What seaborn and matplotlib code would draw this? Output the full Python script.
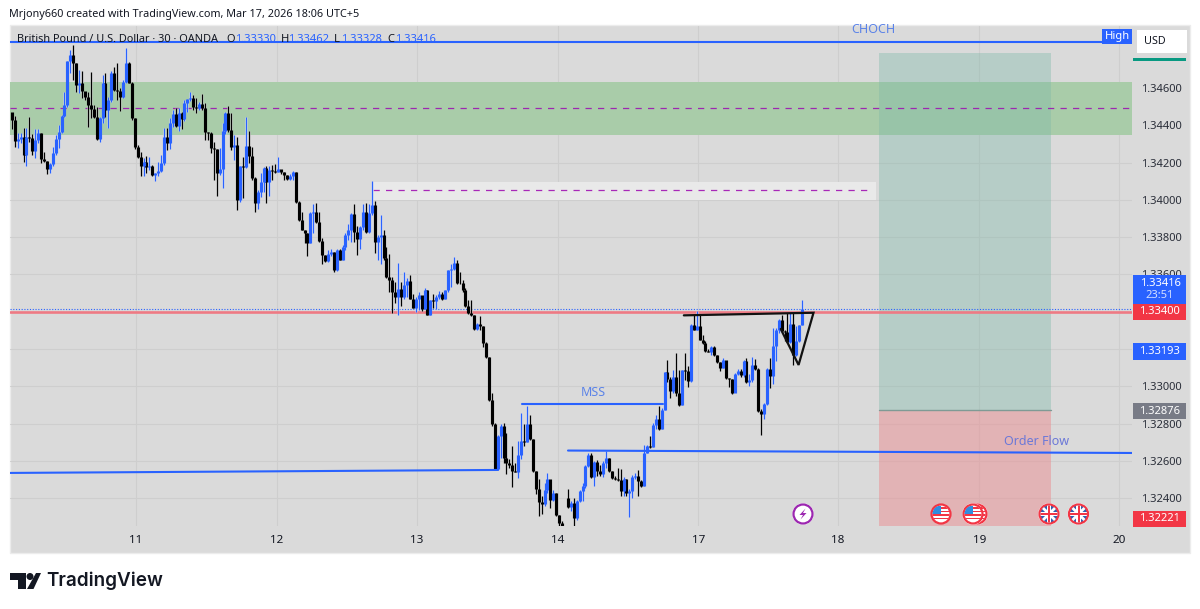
import numpy as np
import pandas as pd
import seaborn as sns
import matplotlib
matplotlib.use("Agg")
import matplotlib.pyplot as plt
from matplotlib.patches import Rectangle, Circle, Polygon
import matplotlib.patheffects as pe

nan = float("nan")

# ---- Candle data: GBP/USD 30 min (a bar opens at the previous close) ----
first_open = 1.34470
closes = [
 1.34429,1.34318,1.34329,1.34339,1.34241,1.34339,1.34330,1.34264,1.34321,1.34357,1.34218,1.34211,1.34164,1.34193,1.34250,1.34325,
 1.34366,1.34450,1.34509,1.34746,1.34777,1.34736,1.34616,1.34625,1.34584,1.34554,1.34509,1.34486,1.34446,1.34325,1.34438,1.34625,
 1.34482,1.34536,1.34679,1.34589,1.34586,1.34554,1.34634,1.34736,1.34629,1.34438,1.34286,1.34229,1.34182,1.34205,
 1.34175,1.34182,1.34134,1.34143,1.34155,1.34200,1.34339,1.34303,1.34410,1.34460,1.34396,1.34464,1.34432,1.34518,1.34539,1.34544,
 1.34496,1.34491,1.34514,1.34491,1.34366,1.34360,1.34276,1.34271,1.34143,1.34164,1.34371,1.34464,1.34375,1.34282,1.34294,1.34000,
 1.34182,1.34175,1.34291,1.34237,1.34116,1.33982,1.34044,1.34098,1.34169,1.34098,1.34160,1.34155,1.34150,1.34166,
 1.34150,1.34132,1.34114,1.34127,1.34150,1.33989,1.33891,1.33841,1.33820,1.33770,1.33930,1.33936,1.33882,1.33780,1.33704,1.33673,
 1.33712,1.33721,1.33623,1.33730,1.33680,1.33745,1.33811,1.33838,1.33927,1.33829,1.33788,1.33855,1.33936,1.33829,1.33930,1.33971,
 1.33775,1.33802,1.33811,1.33686,1.33584,1.33570,1.33507,1.33480,1.33520,1.33480,1.33543,1.33566,1.33471,1.33423,
 1.33471,1.33489,1.33413,1.33516,1.33382,1.33462,1.33459,1.33477,1.33498,1.33466,1.33516,1.33622,1.33631,1.33661,1.33557,1.33555,
 1.33519,1.33430,1.33391,1.33382,1.33308,1.33334,1.33324,1.33235,1.33156,1.32925,1.32796,1.32556,1.32733,1.32787,1.32618,1.32591,
 1.32577,1.32547,1.32541,1.32630,1.32707,1.32701,1.32796,1.32716,1.32547,1.32449,1.32378,1.32369,1.32445,1.32502,
 1.32393,1.32428,1.32312,1.32268,1.32253,1.32402,1.32353,1.32375,1.32294,1.32384,1.32437,1.32464,1.32575,1.32634,1.32514,1.32593,
 1.32544,1.32532,1.32589,1.32616,1.32544,1.32509,1.32505,1.32500,1.32437,1.32503,1.32428,1.32437,1.32514,1.32521,1.32491,1.32464,
 1.32643,1.32682,1.32675,1.32794,1.32825,1.32771,1.32875,1.33078,
 1.33039,1.32973,1.33049,1.32964,1.32902,1.33089,1.33082,1.33028,1.33331,1.33304,1.33322,1.33251,1.33233,1.33188,1.33185,1.33212,
 1.33171,1.33130,1.33099,1.33144,1.33046,1.33037,1.32966,1.33064,1.33082,1.33059,1.33135,1.33023,1.33032,1.33117,1.33094,1.32868,
 1.32851,1.32904,1.33091,1.33055,1.33215,1.33304,1.33357,1.33295,1.33290,1.33236,1.33336,1.33171,1.33242,1.33329,1.33416,
]
highs = [
 1.34438,1.34450,1.34357,1.34357,1.34384,1.34384,1.34443,1.34354,1.34379,1.34379,1.34361,1.34259,1.34211,1.34200,1.34286,1.34348,
 1.34402,1.34455,1.34580,1.34746,1.34804,1.34830,1.34736,1.34696,1.34693,1.34580,1.34580,1.34684,1.34509,1.34500,1.34446,1.34670,
 1.34679,1.34554,1.34693,1.34711,1.34732,1.34598,1.34643,1.34813,1.34741,1.34634,1.34438,1.34295,1.34259,1.34223,
 1.34237,1.34232,1.34187,1.34146,1.34205,1.34241,1.34384,1.34384,1.34437,1.34482,1.34491,1.34491,1.34473,1.34535,1.34539,1.34580,
 1.34562,1.34544,1.34526,1.34568,1.34521,1.34366,1.34366,1.34312,1.34271,1.34276,1.34410,1.34473,1.34503,1.34464,1.34348,1.34339,
 1.34182,1.34232,1.34446,1.34371,1.34285,1.34121,1.34053,1.34143,1.34175,1.34182,1.34182,1.34187,1.34193,1.34232,
 1.34159,1.34150,1.34132,1.34138,1.34154,1.34150,1.33995,1.33936,1.33841,1.33823,1.33936,1.33980,1.33984,1.33936,1.33798,1.33704,
 1.33730,1.33739,1.33721,1.33739,1.33739,1.33757,1.33820,1.33873,1.33930,1.33980,1.33859,1.33859,1.33980,1.33984,1.33980,1.34102,
 1.33995,1.33811,1.33918,1.33841,1.33745,1.33712,1.33584,1.33561,1.33659,1.33561,1.33614,1.33579,1.33596,1.33498,
 1.33480,1.33507,1.33484,1.33525,1.33519,1.33462,1.33498,1.33489,1.33512,1.33507,1.33519,1.33626,1.33654,1.33693,1.33676,1.33613,
 1.33573,1.33530,1.33462,1.33462,1.33382,1.33341,1.33377,1.33324,1.33240,1.33160,1.32964,1.32804,1.32737,1.32796,1.32804,1.32751,
 1.32609,1.32680,1.32591,1.32707,1.32858,1.32796,1.32897,1.32844,1.32716,1.32547,1.32502,1.32413,1.32484,1.32534,
 1.32496,1.32446,1.32428,1.32312,1.32277,nan,1.32452,1.32384,1.32402,1.32393,1.32446,1.32482,1.32580,1.32643,1.32643,1.32598,
 1.32603,1.32580,1.32598,1.32652,1.32616,1.32544,1.32521,1.32562,1.32557,1.32514,1.32503,1.32450,1.32527,1.32535,1.32553,1.32496,
 1.32687,1.32687,1.32732,1.32803,1.32848,1.32893,1.32884,1.33078,
 1.33142,1.33049,1.33089,1.33178,1.33089,1.33089,1.33180,1.33108,1.33336,1.33384,1.33402,1.33384,1.33277,1.33242,1.33201,1.33219,
 1.33215,1.33171,1.33130,1.33153,1.33135,1.33046,1.33037,1.33073,1.33091,1.33091,1.33144,1.33153,1.33064,1.33158,1.33148,1.33099,
 1.32877,1.32909,1.33099,1.33153,1.33313,1.33313,1.33361,1.33384,1.33304,1.33393,1.33396,1.33393,1.33322,1.33331,1.33462,
]
lows = [
 1.34379,1.34282,1.34277,1.34304,1.34205,1.34182,1.34312,1.34241,1.34223,1.34304,1.34200,1.34205,1.34139,1.34146,1.34182,1.34241,
 1.34277,1.34361,1.34443,1.34500,1.34679,1.34643,1.34580,1.34571,1.34545,1.34536,1.34393,1.34438,1.34438,1.34321,1.34312,1.34411,
 1.34446,1.34384,1.34527,1.34586,1.34536,1.34479,1.34545,1.34625,1.34625,1.34429,1.34271,1.34223,1.34129,1.34129,
 1.34143,1.34160,1.34128,1.34103,1.34128,1.34151,1.34187,1.34268,1.34271,1.34393,1.34389,1.34371,1.34378,1.34425,1.34473,1.34532,
 1.34482,1.34464,1.34482,1.34482,1.34321,1.34321,1.34250,1.34107,1.34021,1.34134,1.34062,1.34353,1.34366,1.34268,1.34214,1.33946,
 1.33991,1.34009,1.34169,1.34196,1.34107,1.33937,1.33950,1.34018,1.34044,1.33985,1.34021,1.34107,1.34143,1.34150,
 1.34138,1.34105,1.34105,1.34105,1.34105,1.33984,1.33888,1.33838,1.33770,1.33698,1.33770,1.33820,1.33877,1.33775,1.33655,1.33668,
 1.33668,1.33698,1.33614,1.33620,1.33677,1.33677,1.33730,1.33784,1.33775,1.33775,1.33704,1.33739,1.33841,1.33823,1.33820,1.33918,
 1.33716,1.33677,1.33655,1.33680,1.33579,1.33507,1.33391,1.33445,1.33382,1.33430,1.33471,1.33480,1.33466,1.33418,
 1.33400,1.33409,1.33405,1.33427,1.33382,1.33382,1.33423,1.33413,1.33466,1.33462,1.33471,1.33507,1.33533,1.33626,1.33548,1.33551,
 1.33507,1.33427,1.33388,1.33377,1.33302,1.33302,1.33302,1.33213,1.33151,1.32920,1.32790,1.32552,1.32552,1.32618,1.32591,1.32529,
 1.32564,1.32458,1.32541,1.32511,1.32609,1.32680,1.32701,1.32712,1.32541,1.32422,1.32307,1.32316,1.32360,1.32431,
 1.32348,1.32384,1.32307,1.32253,1.32250,nan,1.32348,1.32330,1.32253,1.32285,1.32378,1.32387,1.32455,1.32568,1.32509,1.32464,
 1.32521,1.32521,1.32514,1.32562,1.32539,1.32503,1.32500,1.32491,1.32414,1.32414,1.32414,1.32300,1.32402,1.32503,1.32414,1.32460,
 1.32464,1.32643,1.32669,1.32675,1.32771,1.32768,1.32771,1.32875,
 1.33026,1.32937,1.32964,1.32950,1.32893,1.32902,1.33034,1.32998,1.33023,1.33300,1.33300,1.33247,1.33229,1.33183,1.33183,1.33171,
 1.33165,1.33123,1.33082,1.33096,1.33041,1.32998,1.32957,1.32970,1.33059,1.33052,1.33052,1.33020,1.33002,1.33023,1.33087,1.32863,
 1.32739,1.32827,1.32899,1.32993,1.33011,1.33135,1.33286,1.33292,1.33242,1.33233,1.33233,1.33117,1.33162,1.33236,1.33329,
]

# ---- Axis content ----
price_ticks = [1.346, 1.344, 1.342, 1.340, 1.338, 1.336, 1.334, 1.332, 1.330, 1.328, 1.326, 1.324]
day_labels = ["11", "12", "13", "14", "17", "18", "19", "20"]
day_bars = [42.7, 90.9, 138.7, 186.9, 234.8, 282.6, 330.8, 378.6]

# ---- Levels drawn on the chart (prices) ----
last_close = 1.33416
red_level = 1.33400
high_level = 1.34847
zone_top, zone_bottom, zone_mid = 1.34632, 1.34348, 1.34493
small_top, small_bottom, small_mid = 1.34096, 1.33999, 1.34053
target, entry, stop = 1.34788, 1.32876, 1.32221
mss_level = 1.32906
flow_left, flow_right = 1.32656, 1.32643
base_left, base_right = 1.32536, 1.32552
tri_bars = [229.6, 273.9, 268.8, 262.7]
tri_prices = [1.33381, 1.33395, 1.33115, 1.33308]

BLUE, BLACK = "#2962ff", "#000000"
W, H = 1200, 609
L, R, T, B = 10, 1132, 26, 526
PX_PER_BAR = 2.927
X0 = 11.8
def bar(px):
    return (px - X0) / PX_PER_BAR

sns.set_theme(style="white", rc={"axes.grid": False})
plt.rcParams["font.family"] = ["Noto Sans", "DejaVu Sans"]
plt.rcParams["axes.unicode_minus"] = False

fig = plt.figure(figsize=(W / 100, H / 100), dpi=100, facecolor="white")

# background canvas in pixel coordinates
bg = fig.add_axes([0, 0, 1, 1], zorder=0)
bg.set_xlim(0, W); bg.set_ylim(H, 0); bg.axis("off")
bg.add_patch(Rectangle((9.5, 25), 1180.5, 527.5, fc="#dadada", ec="#ececec", lw=1))

ax = fig.add_axes([L / W, 1 - B / H, (R - L) / W, (B - T) / H], zorder=1)
ax.patch.set_alpha(0)

# build the candle table
rows = []
op = first_open
for i, (c, h, l) in enumerate(zip(closes, highs, lows)):
    if not np.isnan(h):
        rows.append(dict(bar=i, open=op, close=c, high=h, low=l, dir="up" if c > op else "down"))
    op = c
df = pd.DataFrame(rows)
wicks = df.melt(id_vars=["bar", "dir"], value_vars=["high", "low"], value_name="price")
bodies = df.melt(id_vars=["bar", "dir"], value_vars=["open", "close"], value_name="price")
pal = {"up": BLUE, "down": BLACK}

# zones under the candles
ax.axhspan(zone_bottom, zone_top, color="#a9cca9", zorder=1, lw=0)
ax.add_patch(Rectangle((bar(373), small_bottom), bar(876) - bar(373), small_top - small_bottom,
                       fc="#e9e9e9", ec="none", zorder=1))
n_w = len(ax.lines)
sns.lineplot(data=wicks, x="bar", y="price", hue="dir", units="bar", estimator=None, palette=pal,
             linewidth=0.95, legend=False, sort=False, ax=ax, zorder=4, solid_capstyle="butt")
n_b = len(ax.lines)
sns.lineplot(data=bodies, x="bar", y="price", hue="dir", units="bar", estimator=None, palette=pal,
             linewidth=2.25, legend=False, sort=False, ax=ax, zorder=5, solid_capstyle="butt")
for ln in ax.lines[n_w:n_b]:
    ln.set_path_effects([pe.withStroke(linewidth=2.0, foreground="#efefef", alpha=0.6)])

ax.set_xlim(bar(L), bar(R))
ax.set_ylim(1.346 - (B - 88) * 5.362e-5, 1.346 + (88 - T) * 5.362e-5)

# position tool
ax.add_patch(Rectangle((bar(879), entry), bar(1051) - bar(879), target - entry,
                       fc="#7db8a8", alpha=0.38, ec="none", zorder=2))
ax.add_patch(Rectangle((bar(879), stop - 0.001), bar(1051) - bar(879), entry - stop + 0.001,
                       fc="#ea8d91", alpha=0.50, ec="none", zorder=2))
ax.plot([bar(879), bar(1051)], [entry, entry], color="#7f9a95", lw=1.0, zorder=3)

# levels
ax.plot([bar(L), bar(1105)], [high_level, high_level], color=BLUE, lw=1.5, zorder=6)
ax.plot([bar(L), bar(R)], [zone_mid, zone_mid], color="#9c27b0", lw=0.9, ls=(0, (5, 5)), zorder=3)
ax.plot([bar(373), bar(873)], [small_mid, small_mid], color="#a828b8", lw=0.9, ls=(0, (5, 5)), zorder=3)
ax.plot([bar(L), bar(R)], [red_level, red_level], color="#ee7a84", lw=1.9, zorder=3)
ax.plot([bar(L), bar(R)], [last_close, last_close], color=BLUE, lw=0.8, ls=(0, (1, 1.5)), zorder=3)
ax.plot([bar(522), bar(663)], [mss_level, mss_level], color=BLUE, lw=1.5, zorder=6)
ax.plot([bar(568), bar(R)], [flow_left, flow_right], color=BLUE, lw=1.5, zorder=6)
ax.plot([bar(L), bar(498)], [base_left, base_right], color=BLUE, lw=1.5, zorder=6)
ax.plot(tri_bars, tri_prices, color="#111111", lw=1.6, zorder=7, solid_joinstyle="miter")

ax.text(bar(873), 1.34911, "CHOCH", color="#5b83e8", fontsize=9, ha="center", va="center", zorder=8)
ax.text(bar(593), 1.32965, "MSS", color="#5b83e8", fontsize=9, ha="center", va="center", zorder=8)
ax.text(bar(1037), 1.32707, "Order Flow", color="#6b78d8", fontsize=9, ha="center", va="center", zorder=8)

# axes look
ax.set_xticks([(p * PX_PER_BAR + 11.0 - X0) / PX_PER_BAR for p in day_bars], day_labels)
ax.set_yticks(price_ticks, [f"{p:.5f}" for p in price_ticks])
ax.yaxis.tick_right()
ax.yaxis.set_label_position("right")
ax.set_xlabel(""); ax.set_ylabel("")
ax.tick_params(axis="y", length=0, pad=6.5, labelsize=8, labelcolor="#2a2e39")
ax.tick_params(axis="x", length=0, pad=6.5, labelsize=8.4, labelcolor="#131722")
for t in ax.get_xticklabels():
    t.set_fontweight("semibold")
ax.grid(True, color="#cecece", lw=0.8, zorder=0)
ax.set_axisbelow(True)
for s in ax.spines.values():
    s.set_visible(False)

# overlay in pixel coordinates
top = fig.add_axes([0, 0, 1, 1], zorder=2)
top.set_xlim(0, W); top.set_ylim(H, 0); top.axis("off")
top.patch.set_alpha(0)

def box(x0, y0, x1, y1, color, text=None, tcolor="white", **kw):
    top.add_patch(Rectangle((x0, y0), x1 - x0, y1 - y0, fc=color, ec="none"))
    if text:
        top.text((x0 + x1) / 2, (y0 + y1) / 2, text, color=tcolor, fontsize=8, ha="center", va="center",
                 fontweight="bold", **kw)

box(1102, 29, 1132, 44, BLUE, "High")
top.add_patch(Rectangle((1137, 30), 50, 23, fc="white", ec="none"))
top.text(1144, 42, "USD", fontsize=7.8, color="#131722", va="center")
box(1133, 58, 1186, 61, "#089981")
box(1133, 275, 1186, 304, BLUE)
top.text(1160, 283.5, "1.33416", color="white", fontsize=8, fontweight="bold", ha="center", va="center")
top.text(1160, 296, "23:51", color="#d5e0ff", fontsize=8, ha="center", va="center")
box(1133, 304, 1186, 320, "#f23645", "1.33400")
box(1133, 343, 1186, 359.5, BLUE, "1.33193")
box(1133, 403, 1186, 419, "#787b86", "1.32876")
box(1133, 511, 1186, 526.5, "#f23645", "1.32221")

# header and symbol line
top.text(9, 14, "Mrjony660 created with TradingView.com, Mar 17, 2026 18:06 UTC+5",
         fontsize=7.8, color="#131722", va="center", ha="left")
top.text(17, 39, "British Pound / U.S. Dollar · 30 · OANDA", fontsize=7.9, color="#131722", va="center")
for lab, lx, val, vx in [("O", 226, "1.33330", 235), ("H", 281, "1.33462", 288),
                         ("L", 334, "1.33328", 341), ("C", 387, "1.33416", 395)]:
    top.text(lx, 39, lab, fontsize=8, color="#131722", va="center")
    top.text(vx, 39, val, fontsize=8, color=BLUE, va="center")

# event icons
R_ICON = 9.5
def ring(cx, cy, ec, fc="white"):
    top.add_patch(Circle((cx, cy), R_ICON + 1.3, fc="white", ec="none", zorder=3))
    c = Circle((cx, cy), R_ICON, fc=fc, ec=ec, lw=1.6, zorder=5)
    top.add_patch(c)
    return Circle((cx, cy), R_ICON - 1, transform=top.transData)

def us_flag(cx, cy):
    clip = ring(cx, cy, "#f23645")
    items = [Rectangle((cx - 9, cy - 7 + k * 3.5), 18, 1.8, fc="#f23645", ec="none", zorder=6) for k in range(4)]
    items.append(Rectangle((cx - 9, cy - 8), 9, 8, fc="#2f8de0", ec="none", zorder=7))
    for it in items:
        top.add_patch(it); it.set_clip_path(clip)

def uk_flag(cx, cy):
    clip = ring(cx, cy, "#f23645", fc="#2f5fb0")
    for s in (1, -1):
        ln, = top.plot([cx - 9, cx + 9], [cy - 9 * s, cy + 9 * s], color="white", lw=2, zorder=6)
        ln.set_clip_path(clip)
    items = [Rectangle((cx - 10, cy - 2.2), 20, 4.4, fc="white", ec="none", zorder=7),
             Rectangle((cx - 2.2, cy - 10), 4.4, 20, fc="white", ec="none", zorder=7),
             Rectangle((cx - 10, cy - 1), 20, 2, fc="#f23645", ec="none", zorder=8),
             Rectangle((cx - 1, cy - 10), 2, 20, fc="#f23645", ec="none", zorder=8)]
    for it in items:
        top.add_patch(it); it.set_clip_path(clip)

ring(803, 514, "#9c27b0")
top.add_patch(Polygon([(805.5, 508.5), (799.5, 515), (803, 515), (800.5, 519.5), (806.5, 513), (803, 513)],
                      fc="#9c27b0", ec="none", zorder=6))
us_flag(977, 514)
top.add_patch(Circle((973, 514), R_ICON + 1.3, fc="white", ec="none", zorder=5))
for x_icon in (941, 973):
    top.add_patch(Circle((x_icon, 514), R_ICON, fc="white", ec="#f23645", lw=1.6, zorder=9))
    clip = Circle((x_icon, 514), R_ICON - 1, transform=top.transData)
    for k in range(4):
        r = Rectangle((x_icon - 9, 507 + k * 3.5), 18, 1.8, fc="#f23645", ec="none", zorder=10)
        top.add_patch(r); r.set_clip_path(clip)
    r = Rectangle((x_icon - 9, 506), 9, 8, fc="#2f8de0", ec="none", zorder=11)
    top.add_patch(r); r.set_clip_path(clip)
uk_flag(1049, 514)
uk_flag(1078.5, 514)

# TradingView wordmark
logo = "#131722"
top.add_patch(Polygon([(10, 573), (26, 573), (26, 589), (18, 589), (18, 580), (10, 580)], fc=logo, ec="none"))
top.add_patch(Circle((30, 576.5), 3.5, fc=logo, ec="none"))
top.add_patch(Polygon([(36, 573), (41, 573), (33.5, 589), (27, 589)], fc=logo, ec="none"))
top.text(46, 581, "TradingView", fontsize=13.6, fontweight="semibold", color=logo, va="center", family=["Inter", "DejaVu Sans"])

fig.savefig("out.png", dpi=100, facecolor="white")
